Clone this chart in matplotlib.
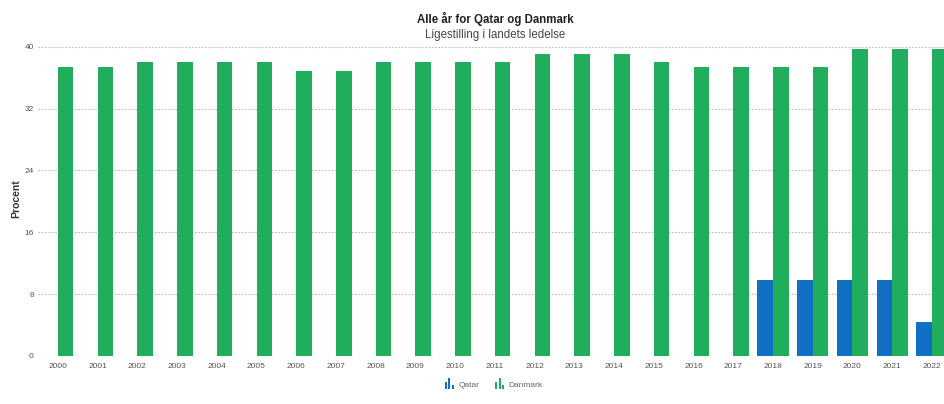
import matplotlib
matplotlib.use("Agg")
import matplotlib.pyplot as plt
import numpy as np
from matplotlib.legend_handler import HandlerBase
from matplotlib.patches import Rectangle

plt.rcParams['font.family'] = ['Liberation Sans', 'DejaVu Sans']

years = [str(y) for y in range(2000, 2023)]
qatar = [0, 0, 0, 0, 0, 0, 0, 0, 0, 0, 0, 0, 0, 0, 0, 0, 0, 0, 9.8, 9.8, 9.8, 9.8, 4.4]
danmark = [37.4, 37.4, 38.0, 38.0, 38.0, 38.0, 36.9, 36.9, 38.0, 38.0, 38.0, 38.0,
           39.1, 39.1, 39.1, 38.0, 37.4, 37.4, 37.4, 37.4, 39.7, 39.7, 39.7]
yticks = [0, 8, 16, 24, 32, 40]

blue = '#1170C4'
green = '#20AE5C'

fig = plt.figure(figsize=(9.45, 4.04), dpi=100)
ax = fig.add_axes([38/945, (404-356)/404, 1 - 38/945, (356-46.7)/404])

x = np.arange(len(years))
w = 0.393
ax.bar(x - w/2, qatar, w, color=blue, label='Qatar')
ax.bar(x + w/2, danmark, w, color=green, label='Danmark')

ax.set_xlim(-0.5, 22.33)
ax.set_ylim(0, 40)
ax.set_yticks(yticks)
ax.set_xticks(x)
ax.set_xticklabels(years)
for s in ax.spines.values():
    s.set_visible(False)
ax.tick_params(axis='both', length=0, labelsize=6, labelcolor='#555555')
ax.tick_params(axis='x', pad=5)
ax.tick_params(axis='y', pad=3)
ax.grid(axis='y', color='#bbbbbb', linestyle=(0, (1.5, 1.5)), linewidth=0.8)
ax.set_axisbelow(True)
ax.set_ylabel('Procent', fontsize=7.5, color='#333333', fontweight='bold')
ax.yaxis.set_label_coords(21/945, 1 - 199/404, transform=fig.transFigure)

fig.text(495/945, 1 - 19/404, 'Alle år for Qatar og Danmark', ha='center', va='center',
         fontsize=8.3, fontweight='bold', color='#222222')
fig.text(495/945, 1 - 35/404, 'Ligestilling i landets ledelse', ha='center', va='center',
         fontsize=8.3, color='#444444')


class BarIconHandler(HandlerBase):
    def create_artists(self, legend, orig_handle, xdescent, ydescent, width, height, fontsize, trans):
        col = orig_handle.patches[0].get_facecolor()
        arts = []
        bw = width / 4.2
        hs = [0.6, 1.0, 0.35]
        H = height * 1.5
        y0 = -height * 0.2
        for i, h in enumerate(hs):
            r = Rectangle((i * bw * 1.6, y0), bw, H * h,
                          facecolor=col, edgecolor='none', transform=trans)
            arts.append(r)
        return arts


handles, labels = ax.get_legend_handles_labels()
leg = fig.legend(handles, labels, loc='center', bbox_to_anchor=(494/945, 1 - 385/404),
                 ncol=2, frameon=False, fontsize=6, handlelength=1.0, handleheight=0.9,
                 handletextpad=0.6, columnspacing=1.9,
                 handler_map={type(handles[0]): BarIconHandler()})
for t in leg.get_texts():
    t.set_color('#666666')

fig.savefig('out.png', dpi=100)
